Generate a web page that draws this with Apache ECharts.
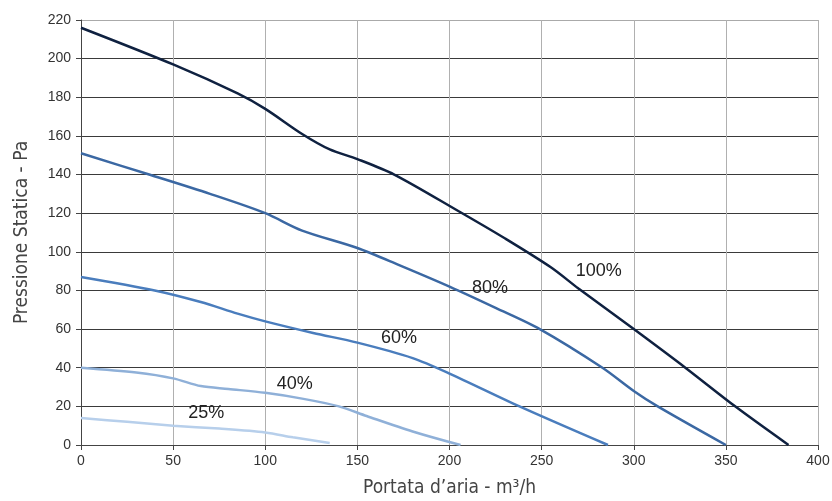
<!DOCTYPE html>
<html><head><meta charset="utf-8">
<script src="https://cdn.jsdelivr.net/npm/echarts@6/dist/echarts.min.js"></script>
<style>html,body{margin:0;padding:0;background:#fff}#c{width:832px;height:501px}</style>
</head><body><div id="c"></div>
<script>
const xTicks = [0,50,100,150,200,250,300,350,400];
const yTicks = [0,20,40,60,80,100,120,140,160,180,200,220];
const seriesNames = ['100%','80%','60%','40%','25%'];
const s100 = [[0,216],[50,197],[85,182],[100,174],[120,161],[135,153],[150,148],[170,140],[205,121],[230,107],[255,92],[270,81],[300,60],[328,40],[355,20],[384,0]];
const s80 = [[0,151],[37,140],[70,130],[100,120],[120,111],[150,102],[173,93],[200,82],[225,71],[249,60],[283,40],[300,28],[313,20],[350,0]];
const s60 = [[0,87],[40,80],[65,74],[85,68],[100,64],[126,58],[150,53],[180,45],[200,37],[238,20],[286,0]];
const s40 = [[0,40],[30,37.5],[50,34.5],[65,30.5],[80,29],[100,27],[120,24],[140,20],[155,15],[180,7],[206,0]];
const s25 = [[0,14],[25,12],[50,10],[75,8.5],[100,6.5],[115,4],[135,1]];
const labelPos = [[281,90],[222,81],[172.6,55.4],[116,31.6],[68,16.6]];
const colors = ['#0f2140','#3b68a3','#4a7dbd','#8fb0d8','#b7cfeb'];
const data = [s100,s80,s60,s40,s25];

const chart = echarts.init(document.getElementById('c'));
const ySplit = yTicks.slice(1).map((v,i,a)=> i===a.length-1 ? '#aaaaaa' : '#3a3a3a');
chart.setOption({
  animation:false,
  grid:{left:81,right:14,top:20,bottom:56,containLabel:false,outerBoundsMode:'none'},
  xAxis:{type:'value',min:0,max:400,interval:50,
    name:'Portata d\u2019aria - m\u00b3/h',nameLocation:'middle',nameGap:34,
    nameTextStyle:{fontFamily:'Liberation Sans Narrow, DejaVu Sans Condensed, sans-serif',fontSize:19,color:'#444'},
    axisLine:{lineStyle:{color:'#444',width:1}},
    axisTick:{show:true,length:5,lineStyle:{color:'#444'}},
    axisLabel:{color:'#333',fontSize:14,fontFamily:'Liberation Sans, Arial, sans-serif',margin:9},
    splitLine:{show:true,lineStyle:{color:'#b0b0b0',width:1}}},
  yAxis:{type:'value',min:0,max:220,interval:20,
    name:'Pressione Statica - Pa',nameLocation:'middle',nameGap:49,
    nameTextStyle:{fontFamily:'Liberation Sans Narrow, DejaVu Sans Condensed, sans-serif',fontSize:19,color:'#444'},
    axisLine:{show:true,lineStyle:{color:'#444',width:1}},
    axisTick:{show:true,length:5,lineStyle:{color:'#444'}},
    axisLabel:{color:'#333',fontSize:14,fontFamily:'Liberation Sans, Arial, sans-serif',margin:10},
    splitLine:{show:true,lineStyle:{color:['#aaaaaa'].concat(ySplit),width:1}}},
  series: data.map((d,i)=>({
    name:seriesNames[i],type:'line',data:d,smooth:0.3,symbol:'none',
    lineStyle:{color:colors[i],width:2.5},
    markPoint:{symbol:'circle',symbolSize:0,silent:true,
      data:[{coord:labelPos[i],value:seriesNames[i]}],
      label:{show:true,position:'inside',formatter:seriesNames[i],color:'#222',fontSize:18,fontFamily:'Liberation Sans, Arial, sans-serif'}}
  }))
});
</script></body></html>
